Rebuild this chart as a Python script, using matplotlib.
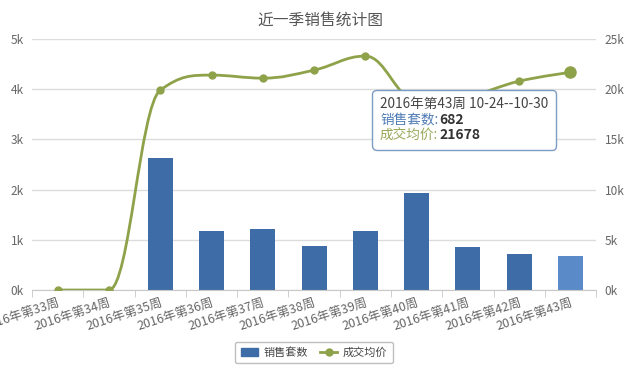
import numpy as np
import matplotlib
matplotlib.use("Agg")
import matplotlib.pyplot as plt
from matplotlib.path import Path
from matplotlib.patches import PathPatch, Patch
from matplotlib.lines import Line2D
from matplotlib.offsetbox import TextArea, HPacker, VPacker, AnnotationBbox

plt.rcParams['font.family'] = ['Noto Sans CJK SC', 'DejaVu Sans']

# ---- data ----
weeks = [f"2016年第{w}周" for w in range(33, 44)]
sales_count = [0, 0, 2630, 1175, 1215, 876, 1175, 1932, 857, 717, 682]
avg_price = [0, 0, 19900, 21400, 21100, 21900, 23300, 18900, 19300, 20800, 21678]
left_ticks = [0, 1000, 2000, 3000, 4000, 5000]
right_ticks = [0, 5000, 10000, 15000, 20000, 25000]
tip_title = "2016年第43周 10-24--10-30"

BAR = "#3e6ca6"
BAR_HOVER = "#5a8bc8"
LINE = "#8ea24a"
GRID = "#dcdcdc"
TXT = "#666666"


def spline_path(xs, ys, smoothing=1.5):
    """Highcharts-style spline through the points, as a bezier Path."""
    n = len(xs)
    lc = [None] * n
    rc = [None] * n
    denom = smoothing + 1
    for i in range(1, n - 1):
        x, y = xs[i], ys[i]
        px, py = xs[i - 1], ys[i - 1]
        nx, ny = xs[i + 1], ys[i + 1]
        lcx = (smoothing * x + px) / denom
        lcy = (smoothing * y + py) / denom
        rcx = (smoothing * x + nx) / denom
        rcy = (smoothing * y + ny) / denom
        if rcx != lcx:
            corr = (rcy - lcy) * (rcx - x) / (rcx - lcx) + y - rcy
            lcy += corr
            rcy += corr
        if lcy > py and lcy > y:
            lcy = max(py, y)
            rcy = 2 * y - lcy
        elif lcy < py and lcy < y:
            lcy = min(py, y)
            rcy = 2 * y - lcy
        if rcy > ny and rcy > y:
            rcy = max(ny, y)
            lcy = 2 * y - rcy
        elif rcy < ny and rcy < y:
            rcy = min(ny, y)
            lcy = 2 * y - rcy
        lc[i] = (lcx, lcy)
        rc[i] = (rcx, rcy)
    verts = [(xs[0], ys[0])]
    codes = [Path.MOVETO]
    for i in range(1, n):
        c1 = rc[i - 1] or (xs[i - 1], ys[i - 1])
        c2 = lc[i] or (xs[i], ys[i])
        verts += [c1, c2, (xs[i], ys[i])]
        codes += [Path.CURVE4] * 3
    return Path(verts, codes)


fig = plt.figure(figsize=(6.41, 3.73), dpi=100)
ax = fig.add_axes([0.05, 0.2225, 0.88, 0.673])
ax2 = ax.twinx()

x = np.arange(len(weeks))
colors = [BAR] * (len(weeks) - 1) + [BAR_HOVER]
ax.bar(x, sales_count, width=0.49, color=colors, zorder=2)

ax.set_xlim(-0.5, len(weeks) - 0.5)
ax.set_ylim(0, 5000)
ax2.set_ylim(0, 25000)
ax.set_yticks(left_ticks)
ax.set_yticklabels([f"{v // 1000}k" for v in left_ticks])
ax2.set_yticks(right_ticks)
ax2.set_yticklabels([f"{v // 1000}k" for v in right_ticks])
ax.grid(axis="y", color=GRID, linewidth=1, zorder=0)
ax.set_axisbelow(True)

for a in (ax, ax2):
    for s in a.spines.values():
        s.set_visible(False)
    a.tick_params(axis="y", length=0, labelsize=8.5, labelcolor=TXT)
ax.tick_params(axis="y", pad=6)
ax2.tick_params(axis="y", pad=6)

ax.spines["bottom"].set_visible(True)
ax.spines["bottom"].set_color("#c8c8c8")
ax.set_xticks(x)
ax.set_xticklabels(weeks, rotation=18, ha="right", rotation_mode="anchor",
                   fontsize=9, color=TXT)
ax.tick_params(axis="x", length=0, pad=5)
ax.set_xticks(np.arange(-0.5, len(weeks)), minor=True)
ax.tick_params(axis="x", which="minor", length=5, color="#c8c8c8")

path = spline_path(list(x.astype(float)), list(map(float, avg_price)))
ax2.add_patch(PathPatch(path, facecolor="none", edgecolor=LINE, linewidth=2, zorder=3))
ax2.plot(x[:-1], avg_price[:-1], "o", color=LINE, markersize=5, zorder=4)
ax2.plot(x[-1], avg_price[-1], "o", color=LINE, markersize=8, zorder=4)

fig.text(0.5, 0.945, "近一季销售统计图", ha="center", va="center",
         fontsize=11.3, color="#555555")

# tooltip
def row(label, value, color):
    return HPacker(children=[
        TextArea(label, textprops=dict(color=color, fontsize=9.8)),
        TextArea(value, textprops=dict(color="#333333", fontsize=10, fontweight="bold")),
    ], pad=0, sep=1, align="baseline")

tip = VPacker(children=[
    TextArea(tip_title, textprops=dict(color="#444444", fontsize=9.8)),
    row("销售套数:", str(sales_count[-1]), "#4e7bb5"),
    row("成交均价:", str(avg_price[-1]), "#98a85a"),
], pad=0, sep=1, align="left")
ab = AnnotationBbox(tip, (380 / 641, 1 - 142 / 373), xycoords="figure fraction",
                    box_alignment=(0, 0), frameon=True, pad=0.55,
                    bboxprops=dict(boxstyle="round,pad=0.55,rounding_size=0.3",
                                   facecolor="white", edgecolor="#7d9cc4",
                                   linewidth=1))
ab.set_zorder(10)
fig.add_artist(ab)

handles = [Patch(facecolor=BAR, edgecolor=BAR),
           Line2D([], [], color=LINE, marker="o", markersize=5, linewidth=2)]
leg = fig.legend(handles, ["销售套数", "成交均价"], loc="center",
                 bbox_to_anchor=(0.49, 0.055), ncol=2, fontsize=8,
                 frameon=True, fancybox=True, edgecolor="#b0b0b0",
                 handlelength=1.6, handletextpad=0.5, columnspacing=1.0,
                 borderpad=0.5)
for t in leg.get_texts():
    t.set_color("#444444")

fig.savefig("out.png", dpi=100)
